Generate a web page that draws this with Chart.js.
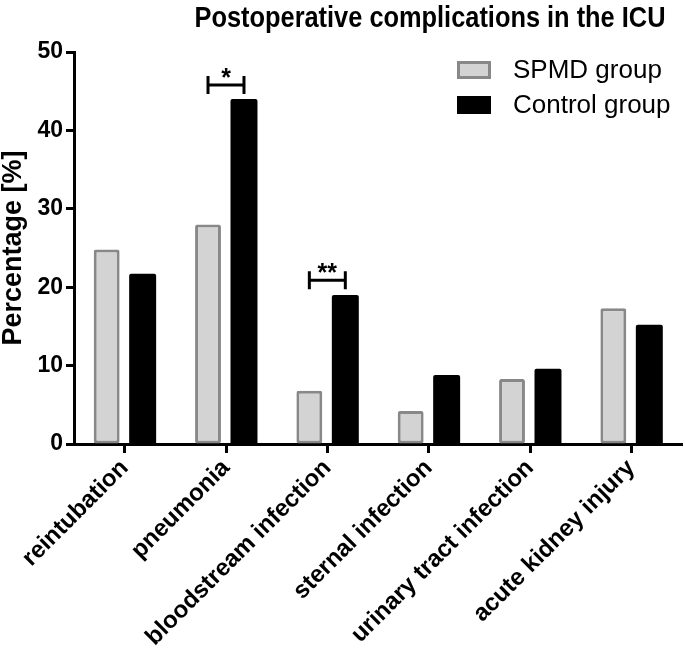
<!DOCTYPE html>
<html>
<head>
<meta charset="utf-8">
<script src="https://cdn.jsdelivr.net/npm/chart.js@4.4.1/dist/chart.umd.min.js"></script>
<style>
  html, body { margin: 0; padding: 0; background: #fff; }
  #wrap { width: 685px; height: 658px; position: relative; }
</style>
</head>
<body>
<div id="wrap"><canvas id="complChart"></canvas></div>
<script>
const categories = ['reintubation', 'pneumonia', 'bloodstream infection', 'sternal infection', 'urinary tract infection', 'acute kidney injury'];
const spmd_values = [24.8, 28.0, 6.8, 4.2, 8.3, 17.3];
const control_values = [21.7, 44.0, 19.0, 8.8, 9.6, 15.2];
const y_ticks = [0, 10, 20, 30, 40, 50];
// significance brackets: category index, bracket height (in %), label
const sig_index = [1, 2];
const sig_level = [45.8, 20.9];
const sig_label = ['*', '**'];

const FONT = 'Liberation Sans, Arial, Helvetica, sans-serif';

const titlePlugin = {
    id: 'titleText',
    afterDraw(chart) {
        const ctx = chart.ctx;
        ctx.save();
        ctx.translate(430, 27);
        ctx.scale(0.875, 1);
        ctx.font = 'bold 29px ' + FONT;
        ctx.fillStyle = '#000';
        ctx.textAlign = 'center';
        ctx.textBaseline = 'alphabetic';
        ctx.fillText('Postoperative complications in the ICU', 0, 0);
        ctx.restore();
    }
};

const legendPlugin = {
    id: 'boxLegend',
    afterDraw(chart) {
        const ctx = chart.ctx;
        const rows = [70, 105];
        ctx.save();
        chart.data.datasets.forEach(function(ds, i) {
            const y = rows[i];
            ctx.fillStyle = ds.backgroundColor;
            ctx.fillRect(457, y - 9, 34, 18);
            if (ds.borderColor !== ds.backgroundColor) {
                ctx.strokeStyle = ds.borderColor;
                ctx.lineWidth = 3;
                ctx.strokeRect(458.5, y - 7.5, 31, 15);
            }
            ctx.fillStyle = '#000';
            ctx.font = '26px ' + FONT;
            ctx.textAlign = 'left';
            ctx.textBaseline = 'middle';
            ctx.fillText(ds.label, 513, y + 1);
        });
        ctx.restore();
    }
};

const sigPlugin = {
    id: 'sigBrackets',
    afterDatasetsDraw(chart) {
        const ctx = chart.ctx;
        const y_scale = chart.scales.y;
        const m0 = chart.getDatasetMeta(0);
        const m1 = chart.getDatasetMeta(1);
        ctx.save();
        ctx.strokeStyle = '#000';
        ctx.lineWidth = 3;
        sig_index.forEach(function(idx, k) {
            const x0 = m0.data[idx].x;
            const x1 = m1.data[idx].x;
            const y = y_scale.getPixelForValue(sig_level[k]);
            ctx.beginPath();
            ctx.moveTo(x0, y); ctx.lineTo(x1, y);
            ctx.moveTo(x0, y - 9); ctx.lineTo(x0, y + 9);
            ctx.moveTo(x1, y - 9); ctx.lineTo(x1, y + 9);
            ctx.stroke();
            ctx.fillStyle = '#000';
            ctx.font = 'bold 25px ' + FONT;
            ctx.textAlign = 'center';
            ctx.textBaseline = 'alphabetic';
            ctx.fillText(sig_label[k], (x0 + x1) / 2, y + 1);
        });
        ctx.restore();
    }
};

function draw_chart() {
    const ctx = document.getElementById('complChart').getContext('2d');
    return new Chart(ctx, {
        type: 'bar',
        data: {
            labels: categories,
            datasets: [{
                label: 'SPMD group',
                data: spmd_values,
                backgroundColor: '#d3d3d3',
                borderColor: '#888888',
                borderWidth: 3,
                borderSkipped: false,
                borderRadius: 2,
                categoryPercentage: 0.71,
                barPercentage: 0.72
            }, {
                label: 'Control group',
                data: control_values,
                backgroundColor: '#000000',
                borderColor: '#000000',
                borderWidth: 0,
                borderRadius: 2,
                categoryPercentage: 0.71,
                barPercentage: 0.75
            }]
        },
        options: {
            responsive: true,
            maintainAspectRatio: false,
            animation: false,
            layout: { padding: { top: 52, right: 3, left: 0, bottom: 0 } },
            plugins: {
                legend: { display: false },
                tooltip: { enabled: false }
            },
            scales: {
                x: {
                    afterFit(scale) { scale.height = 214; },
                    grid: {
                        display: true,
                        drawOnChartArea: false,
                        offset: false,
                        tickLength: 9,
                        tickWidth: 3,
                        color: '#000'
                    },
                    border: { display: true, color: '#000', width: 3 },
                    ticks: {
                        autoSkip: false,
                        maxRotation: 45,
                        minRotation: 45,
                        padding: 1,
                        color: '#000',
                        font: { family: FONT, size: 24, weight: 'bold' }
                    }
                },
                y: {
                    min: 0,
                    max: 50,
                    afterFit(scale) { scale.width = 74; },
                    afterBuildTicks(scale) { scale.ticks = y_ticks.map(v => ({ value: v })); },
                    grid: {
                        display: true,
                        drawOnChartArea: false,
                        tickLength: 8,
                        tickWidth: 3,
                        color: '#000'
                    },
                    border: { display: true, color: '#000', width: 3 },
                    ticks: {
                        padding: 3,
                        color: '#000',
                        font: { family: FONT, size: 23, weight: 'bold' }
                    },
                    title: {
                        display: true,
                        text: 'Percentage [%]',
                        color: '#000',
                        padding: { top: 0, bottom: 0 },
                        font: { family: FONT, size: 27, weight: 'bold', lineHeight: 1.0 }
                    }
                }
            }
        },
        plugins: [titlePlugin, legendPlugin, sigPlugin]
    });
}

draw_chart();
</script>
</body>
</html>
